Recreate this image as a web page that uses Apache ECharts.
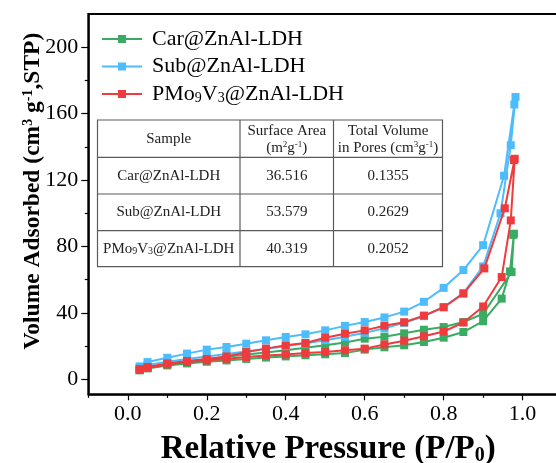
<!DOCTYPE html>
<html>
<head>
<meta charset="utf-8">
<script src="https://cdn.jsdelivr.net/npm/echarts@6/dist/echarts.min.js"></script>
<style>
  html, body { margin: 0; padding: 0; background: #fff; }
  #chart { width: 556px; height: 463px; }
</style>
</head>
<body>
<div id="chart"></div>
<script>
// N2 adsorption-desorption isotherms: each loop runs up the adsorption branch, then back down the desorption branch.
const carPressure = [0.03, 0.05, 0.1, 0.15, 0.2, 0.25, 0.3, 0.35, 0.4, 0.45, 0.5, 0.55, 0.6, 0.65, 0.7, 0.75, 0.8, 0.85, 0.9, 0.947, 0.968, 0.978,
                     0.976, 0.972, 0.9, 0.85, 0.8, 0.75, 0.7, 0.65, 0.6, 0.55, 0.5, 0.45, 0.4, 0.35, 0.3, 0.25, 0.2, 0.15, 0.1, 0.05, 0.03];
const carVolume   = [5.4, 6.6, 8.4, 9.6, 10.6, 11.4, 12.3, 13.1, 13.8, 14.5, 15.1, 15.8, 17.9, 19.3, 20.5, 22.5, 25.1, 28.5, 35, 48.6, 65, 87.7,
                     87, 64.6, 39.5, 34.5, 31.5, 29.9, 27.7, 25.7, 24.5, 22.2, 20.5, 19, 17.5, 16.2, 15, 13.6, 12.1, 10.8, 9.2, 7, 5.8];

const subPressure = [0.03, 0.05, 0.1, 0.15, 0.2, 0.25, 0.3, 0.35, 0.4, 0.45, 0.5, 0.55, 0.6, 0.65, 0.7, 0.75, 0.8, 0.85, 0.9, 0.944, 0.97, 0.982,
                     0.979, 0.953, 0.9, 0.85, 0.8, 0.75, 0.7, 0.65, 0.6, 0.55, 0.5, 0.45, 0.4, 0.35, 0.3, 0.25, 0.2, 0.15, 0.1, 0.05, 0.03];
const subVolume   = [6.8, 8.6, 10.6, 12.2, 13.8, 15.3, 16.8, 18.4, 20, 21.7, 23.6, 25.6, 28, 30.8, 34, 38, 43.5, 52, 68, 100, 141, 170,
                     165.5, 122.6, 80.8, 65.8, 55.1, 46.7, 40.8, 37.3, 34.5, 32.2, 29.5, 27.1, 25.5, 23.5, 21.5, 19.5, 17.9, 15.5, 13, 10.4, 7.8];

const pmoPressure = [0.03, 0.05, 0.1, 0.15, 0.2, 0.25, 0.3, 0.35, 0.4, 0.45, 0.5, 0.55, 0.6, 0.65, 0.7, 0.75, 0.8, 0.85, 0.9, 0.947, 0.97, 0.98,
                     0.978, 0.955, 0.903, 0.85, 0.8, 0.75, 0.7, 0.65, 0.6, 0.55, 0.5, 0.45, 0.4, 0.35, 0.3, 0.25, 0.2, 0.15, 0.1, 0.05, 0.03];
const pmoVolume   = [5.8, 7, 9, 10.4, 11.4, 12.4, 13.4, 14.4, 15, 15.8, 16.4, 17.5, 18.5, 21, 23.3, 25.9, 28.8, 34.2, 43.9, 61.6, 95.7, 132.8,
                     132, 103, 66.8, 51.6, 43.4, 38.4, 34.4, 32.3, 29.5, 27.5, 25.1, 21.9, 20.5, 18.5, 16.4, 13.8, 12.2, 11, 9.6, 7.4, 6.1];

// Axis ticks
const xMajorTicks = [0, 0.2, 0.4, 0.6, 0.8, 1.0];
const xMinorTicks = [-0.1, 0.1, 0.3, 0.5, 0.7, 0.9];
const yMajorTicks = [0, 40, 80, 120, 160, 200];
const yMinorTicks = [20, 60, 100, 140, 180];

// Inset table of textural properties
const tableSamples = ['Car@ZnAl-LDH', 'Sub@ZnAl-LDH', 'PMo{sub|9}V{sub|3}@ZnAl-LDH'];
const surfaceArea  = ['36.516', '53.579', '40.319'];
const poreVolume   = ['0.1355', '0.2629', '0.2052'];

const seriesNames  = ['Car@ZnAl-LDH', 'Sub@ZnAl-LDH', 'PMo9V3@ZnAl-LDH'];
const seriesColors = ['#3aab62', '#4cbcfc', '#ee3b3e'];

const FONT = 'Liberation Serif';
const zip = (xs, ys) => xs.map((x, i) => [x, ys[i]]);

const chart = echarts.init(document.getElementById('chart'), null, { renderer: 'canvas' });

const lineSeries = [
  zip(carPressure, carVolume),
  zip(subPressure, subVolume),
  zip(pmoPressure, pmoVolume)
].map((data, i) => ({
  name: seriesNames[i],
  type: 'line',
  data: data,
  symbol: 'rect',
  symbolSize: 8,
  showSymbol: true,
  z: 2 + i,
  lineStyle: { color: seriesColors[i], width: 2 },
  itemStyle: { color: seriesColors[i] },
  emphasis: { disabled: true },
  animation: false
}));

// Table geometry
const tX = [97.5, 240, 333.5, 442.5];
const tY = [120, 157.3, 194, 230.7, 266.7];
const cellFont = { fontFamily: FONT, fontSize: 15, fill: '#222' };
const supRich = {
  sup: { fontFamily: FONT, fontSize: 9, verticalAlign: 'top', lineHeight: 10, fill: '#222' },
  sub: { fontFamily: FONT, fontSize: 10, verticalAlign: 'bottom', lineHeight: 10, fill: '#222' }
};
const tableGraphics = [];
tableGraphics.push({
  type: 'rect', shape: { x: tX[0], y: tY[0], width: tX[3] - tX[0], height: tY[4] - tY[0] },
  style: { fill: '#fff', stroke: '#5a5a5a', lineWidth: 1.2 }, z: 10
});
[1, 2].forEach(c => tableGraphics.push({
  type: 'line', shape: { x1: tX[c], y1: tY[0], x2: tX[c], y2: tY[4] },
  style: { stroke: '#5a5a5a', lineWidth: 1.2 }, z: 11
}));
[1, 2, 3].forEach(r => tableGraphics.push({
  type: 'line', shape: { x1: tX[0], y1: tY[r], x2: tX[3], y2: tY[r] },
  style: { stroke: '#5a5a5a', lineWidth: 1.2 }, z: 11
}));
function cellText(text, c, r, dy) {
  return {
    type: 'text', z: 12,
    x: (tX[c] + tX[c + 1]) / 2, y: (tY[r] + tY[r + 1]) / 2 + (dy || 0),
    style: Object.assign({ text: text, align: 'center', verticalAlign: 'middle', rich: supRich }, cellFont)
  };
}
tableGraphics.push(cellText('Sample', 0, 0));
tableGraphics.push(cellText('Surface Area', 1, 0, -8));
tableGraphics.push(cellText('(m{sup|2}g{sup|-1})', 1, 0, 9));
tableGraphics.push(cellText('Total Volume', 2, 0, -8));
tableGraphics.push(cellText('in Pores (cm{sup|3}g{sup|-1})', 2, 0, 9));
tableSamples.forEach((s, i) => {
  tableGraphics.push(cellText(s, 0, i + 1));
  tableGraphics.push(cellText(surfaceArea[i], 1, i + 1));
  tableGraphics.push(cellText(poreVolume[i], 2, i + 1));
});

const option = {
  backgroundColor: '#fff',
  animation: false,
  grid: {
    left: 88.3, top: 14, width: 473.8, height: 380.3,
    outerBoundsMode: 'none',
    containLabel: false,
    show: true, borderColor: '#000', borderWidth: 2, backgroundColor: 'transparent'
  },
  legend: {
    orient: 'vertical',
    left: 101, top: 28,
    padding: 0,
    itemWidth: 40, itemHeight: 10,
    itemGap: 5.5,
    data: seriesNames,
    formatter: name => name === 'PMo9V3@ZnAl-LDH' ? 'PMo{sub|9}V{sub|3}@ZnAl-LDH' : name,
    textStyle: {
      fontFamily: FONT, fontSize: 22, color: '#000', lineHeight: 22, padding: [0, 0, 0, 5],
      rich: {
        sub: { fontFamily: FONT, fontSize: 14, color: '#000', verticalAlign: 'bottom', lineHeight: 14 }
      }
    }
  },
  xAxis: [
    {
      type: 'value', min: -0.1, max: 1.1,
      position: 'bottom',
      splitLine: { show: false },
      axisLine: { onZero: false, lineStyle: { color: '#000', width: 1.5 } },
      axisTick: { inside: false, length: 6, customValues: xMajorTicks, lineStyle: { color: '#000', width: 1.2 } },
      axisLabel: {
        customValues: xMajorTicks, margin: 9,
        fontFamily: FONT, fontSize: 22, color: '#000',
        formatter: v => v.toFixed(1)
      },
      name: 'Relative Pressure (P/P{sub|0})',
      nameLocation: 'middle', nameGap: 39,
      nameMoveOverlap: false,
      nameTextStyle: {
        fontFamily: FONT, fontSize: 33, fontWeight: 'bold', color: '#000', padding: [0, 0, 0, 6],
        rich: { sub: { fontFamily: FONT, fontSize: 20, fontWeight: 'bold', color: '#000', verticalAlign: 'bottom', lineHeight: 18 } }
      }
    },
    {
      type: 'value', min: -0.1, max: 1.1,
      position: 'bottom',
      splitLine: { show: false },
      axisLine: { show: false, onZero: false },
      axisTick: { inside: false, length: 3.5, customValues: xMinorTicks, lineStyle: { color: '#000', width: 1.2 } },
      axisLabel: { show: false }
    }
  ],
  yAxis: [
    {
      type: 'value', min: -9, max: 220,
      position: 'left',
      splitLine: { show: false },
      axisLine: { onZero: false, lineStyle: { color: '#000', width: 1.5 } },
      axisTick: { inside: false, length: 7, customValues: yMajorTicks, lineStyle: { color: '#000', width: 1.2 } },
      axisLabel: {
        customValues: yMajorTicks, margin: 10,
        fontFamily: FONT, fontSize: 22, color: '#000'
      },
      name: 'Volume Adsorbed (cm{sup|3} g{sup|-1},STP)',
      nameLocation: 'middle', nameGap: 43,
      nameMoveOverlap: false,
      nameTextStyle: {
        fontFamily: FONT, fontSize: 23.5, fontWeight: 'bold', color: '#000', padding: [0, 0, 0, 26],
        rich: { sup: { fontFamily: FONT, fontSize: 14, fontWeight: 'bold', color: '#000', verticalAlign: 'top', lineHeight: 14 } }
      }
    },
    {
      type: 'value', min: -9, max: 220,
      position: 'left',
      splitLine: { show: false },
      axisLine: { show: false, onZero: false },
      axisTick: { inside: false, length: 3.5, customValues: yMinorTicks, lineStyle: { color: '#000', width: 1.2 } },
      axisLabel: { show: false }
    }
  ],
  series: lineSeries,
  graphic: tableGraphics
};

chart.setOption(option);
</script>
</body>
</html>
